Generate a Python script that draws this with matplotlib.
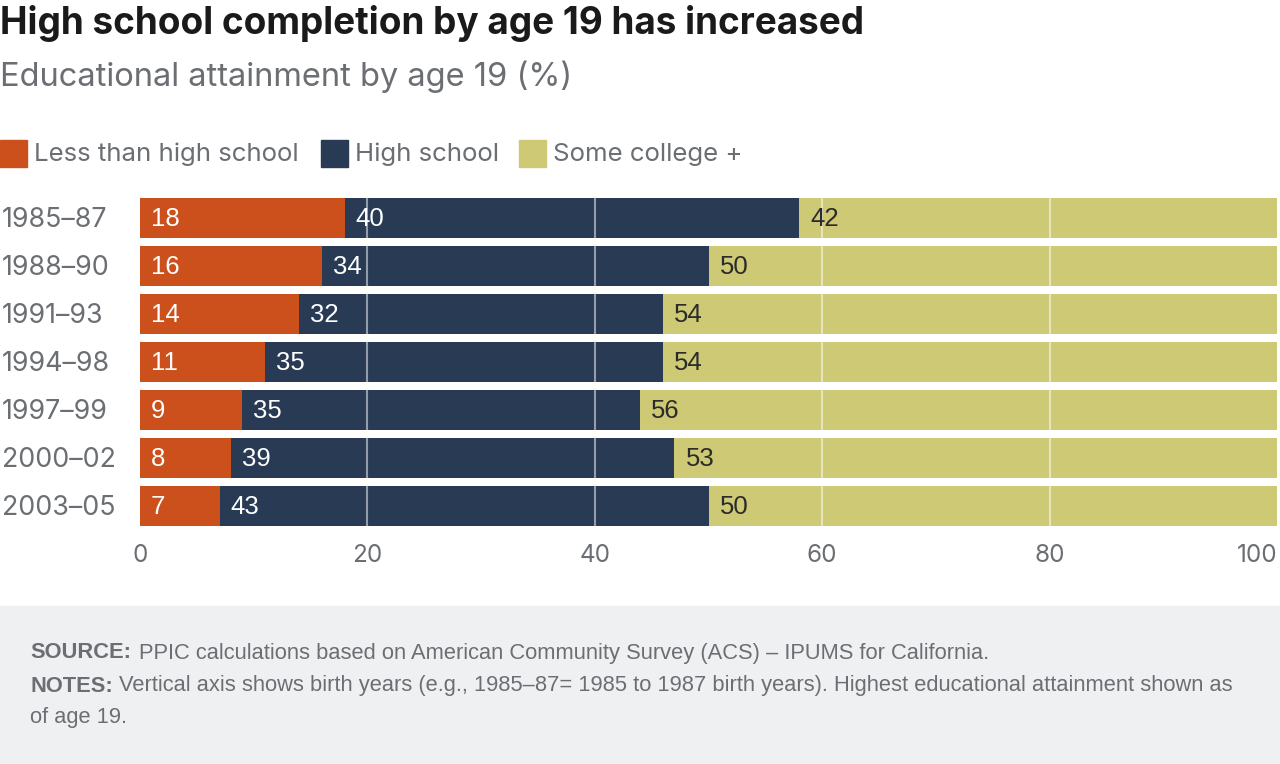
import matplotlib.pyplot as plt
from matplotlib.patches import Rectangle
from matplotlib.transforms import blended_transform_factory

# data
cohorts = ["1985–87", "1988–90", "1991–93", "1994–98", "1997–99", "2000–02", "2003–05"]
less_than_hs = [18, 16, 14, 11, 9, 8, 7]
high_school = [40, 34, 32, 35, 35, 39, 43]
some_college = [42, 50, 54, 54, 56, 53, 50]
series_names = ["Less than high school", "High school", "Some college +"]
xticks = [0, 20, 40, 60, 80, 100]

colors = ["#cb501b", "#283a54", "#cdc974"]
label_colors = ["white", "white", "#2b2b2b"]
grey = "#6b6e73"

plt.rcParams["font.family"] = ["Inter", "DejaVu Sans"]
arial = ["Liberation Sans", "DejaVu Sans"]

W, H = 1280, 764
fig = plt.figure(figsize=(W / 100, H / 100), dpi=100)

# axes placement in pixel terms
left, right, top, bottom = 140, 1277, 194, 530
ax = fig.add_axes([left / W, 1 - bottom / H, (right - left) / W, (bottom - top) / H])

y = list(range(len(cohorts)))
series = [less_than_hs, high_school, some_college]
starts = [0] * len(cohorts)
for vals, col, lcol in zip(series, colors, label_colors):
    ax.barh(y, vals, left=starts, height=0.83, color=col, zorder=1)
    for yi, s, v in zip(y, starts, vals):
        ax.annotate(str(v), (s, yi), xytext=(8, -1), textcoords="offset points",
                    ha="left", va="center", color=lcol, fontsize=18.5,
                    family=arial, zorder=3)
    starts = [s + v for s, v in zip(starts, vals)]

ax.set_xlim(0, 100)
ax.set_ylim(len(cohorts) - 0.5, -0.5)
ax.set_xticks(xticks)
ax.set_xticklabels([str(t) for t in xticks], fontsize=17.5, color=grey)
ax.get_xticklabels()[-1].set_ha("right")
ax.tick_params(axis="x", length=0, pad=10)
ax.set_yticks([])

# category labels, left aligned at the figure edge
trans = blended_transform_factory(fig.transFigure, ax.transData)
for yi, lab in zip(y, cohorts):
    ax.text(2 / W, yi + 0.05, lab, transform=trans, fontsize=19.3, color=grey,
            ha="left", va="center")

# semi transparent white grid over the bars
for t in xticks[1:-1]:
    for yi in y:
        ax.plot([t, t], [yi - 0.415, yi + 0.415], color="white", alpha=0.5,
                linewidth=1.5, zorder=2)
for sp in ax.spines.values():
    sp.set_visible(False)

# title and subtitle
fig.text(0, 1 - 23 / H, "High school completion by age 19 has increased",
         fontsize=26.6, fontweight="bold", color="#1a1a1a", va="center", ha="left")
fig.text(0, 1 - 77 / H, "Educational attainment by age 19 (%)",
         fontsize=23.5, color=grey, va="center", ha="left")

# legend drawn by hand
legend_x = [0, 321, 519]
for lx, name, col in zip(legend_x, series_names, colors):
    fig.patches.append(Rectangle((lx / W, 1 - 167 / H), 27 / W, 27 / H,
                                 transform=fig.transFigure, color=col))
    fig.text((lx + 34) / W, 1 - 154 / H, name, fontsize=18.6, color=grey,
             va="center", ha="left")

# footer box
fig.patches.append(Rectangle((0, 0), 1, 1 - 606 / H, transform=fig.transFigure,
                             color="#eff0f2", zorder=0))
foot = dict(fontsize=15.75, color=grey, family=arial, va="center", ha="left")
fig.text(30 / W, 1 - 653 / H, "SOURCE:", fontweight="bold", **foot)
fig.text(139 / W, 1 - 653 / H,
         "PPIC calculations based on American Community Survey (ACS) – IPUMS for California.",
         **foot)
fig.text(30 / W, 1 - 686 / H, "NOTES:", fontweight="bold", **foot)
fig.text(119 / W, 1 - 686 / H,
         "Vertical axis shows birth years (e.g., 1985–87= 1985 to 1987 birth years). "
         "Highest educational attainment shown as", **foot)
fig.text(30 / W, 1 - 718 / H, "of age 19.", **foot)

fig.savefig("out.png", dpi=100)
